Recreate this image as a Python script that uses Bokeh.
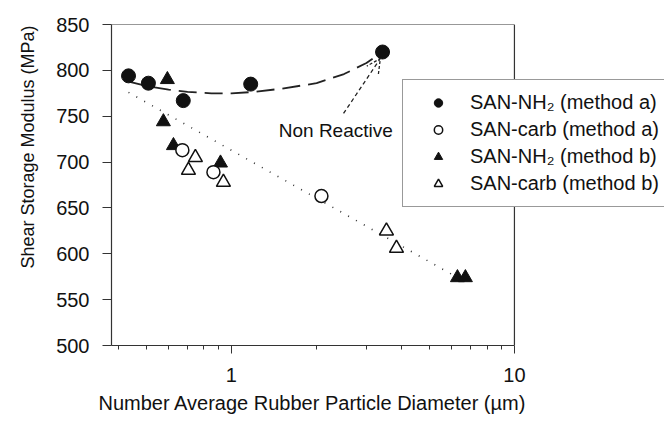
from bokeh.plotting import figure
from bokeh.models import (Legend, LegendItem, Arrow, OpenHead, Label, FixedTicker,
                          BasicTickFormatter, Range1d, Title)
from bokeh.embed import file_html
from bokeh.resources import INLINE

# ---- data ----
nh2_a_x = [0.433, 0.509, 0.676, 1.17, 3.42]
nh2_a_y = [794, 786, 767, 785, 820]

carb_a_x = [0.671, 0.864, 2.08]
carb_a_y = [713, 689, 663]

nh2_b_x = [0.594, 0.575, 0.624, 0.915, 6.29, 6.71]
nh2_b_y = [790, 744, 718, 699, 574, 574]

carb_b_x = [0.746, 0.705, 0.937, 3.53, 3.83]
carb_b_y = [705, 691, 678, 625, 606]

# dashed fit curve
fit_x = [0.43, 0.5, 0.6, 0.7, 0.85, 1.0, 1.2, 1.5, 2.0, 2.5, 3.0, 3.45]
fit_y = [788, 783, 779, 776.5, 775, 775, 776.5, 780, 786, 796, 808, 821]

# dotted trend line
trend_x = [0.433, 6.3]
trend_y = [776, 574]

# axis extents and ticks
x_lo, x_hi = 0.377, 10
y_lo, y_hi = 500, 850
x_major = [1, 10]
x_minor = [0.4, 0.5, 0.6, 0.7, 0.8, 0.9, 2, 3, 4, 5, 6, 7, 8, 9]
y_major = [500, 550, 600, 650, 700, 750, 800, 850]

labels = ["SAN-NH\u2082 (method a)", "SAN-carb (method a)",
          "SAN-NH\u2082 (method b)", "SAN-carb (method b)"]

FONT = "Liberation Sans"
INK = "#111111"
EDGE = "#333333"

# frame spans the full width so the legend can run off the right edge;
# the plot box itself ends at x = 10
p = figure(width=664, height=421, x_axis_type="log",
           x_range=Range1d(x_lo, 33.9), y_range=Range1d(y_lo, y_hi),
           output_backend="svg", toolbar_location=None,
           min_border_left=111, min_border_right=0,
           min_border_top=24, min_border_bottom=76)

p.grid.visible = False
p.outline_line_color = None
p.background_fill_color = "white"
p.border_fill_color = "white"

# plot box: top and right edges
p.line([x_lo, x_hi], [y_hi, y_hi], line_color=EDGE, line_width=1.2)
p.line([x_hi, x_hi], [y_lo, y_hi], line_color=EDGE, line_width=1.2)

# lines
p.line(fit_x, fit_y, line_color="#222222", line_width=1.8, line_dash="18 8")
p.line(trend_x, trend_y, line_color="#333333", line_width=1.6, line_dash="1 8")

# markers
r_nh2_b = p.scatter(nh2_b_x, nh2_b_y, marker="triangle", size=14,
                    fill_color=INK, line_color=INK)
r_nh2_a = p.scatter(nh2_a_x, nh2_a_y, marker="circle", size=14,
                    fill_color=INK, line_color=INK)
r_carb_a = p.scatter(carb_a_x, carb_a_y, marker="circle", size=13,
                     fill_color="white", line_color=INK, line_width=1.5)
r_carb_b = p.scatter(carb_b_x, carb_b_y, marker="triangle", size=14,
                     fill_color="white", line_color=INK, line_width=1.5)

# arrow + annotation
p.add_layout(Arrow(x_start=2.49, y_start=753, x_end=3.36, y_end=813,
                   line_color="#222222", line_width=1.3, line_dash="4 3",
                   end=OpenHead(size=14, line_color="#222222", line_width=1.3,
                                line_dash="3 2")))
p.add_layout(Label(x=1.47, y=734, text="Non Reactive", text_font=FONT,
                   text_font_size="19px", text_color=INK,
                   text_baseline="middle", text_align="left"))

# x axis
xa = p.xaxis[0]
xa.bounds = (x_lo, x_hi)
xa.ticker = FixedTicker(ticks=x_major, minor_ticks=x_minor)
xa.formatter = BasicTickFormatter()
xa.major_tick_in = 0
xa.major_tick_out = 8
xa.minor_tick_in = 0
xa.minor_tick_out = 4
xa.major_label_standoff = 14
xa.major_label_text_font = FONT
xa.major_label_text_font_size = "20px"
xa.major_label_text_color = INK
xa.axis_line_color = EDGE
xa.axis_line_width = 1.2
xa.major_tick_line_color = EDGE
xa.minor_tick_line_color = EDGE

p.add_layout(Title(text="Number Average Rubber Particle Diameter (\u00b5m)",
                   align="left", offset=-13, text_font=FONT,
                   text_font_size="20px", text_font_style="normal",
                   text_color=INK, standoff=10), "below")

# y axis
ya = p.yaxis[0]
ya.ticker = FixedTicker(ticks=y_major, minor_ticks=[])
ya.major_tick_in = 0
ya.major_tick_out = 9
ya.minor_tick_out = 0
ya.minor_tick_in = 0
ya.major_label_standoff = 13
ya.major_label_text_font = FONT
ya.major_label_text_font_size = "20px"
ya.major_label_text_color = INK
ya.axis_line_color = EDGE
ya.axis_line_width = 1.2
ya.major_tick_line_color = EDGE

p.add_layout(Title(text="Shear Storage Modulus (MPa)",
                   align="left", offset=77, text_font=FONT,
                   text_font_size="18px", text_font_style="normal",
                   text_color=INK, standoff=31), "left")

legend = Legend(items=[LegendItem(label=labels[0], renderers=[r_nh2_a]),
                       LegendItem(label=labels[1], renderers=[r_carb_a]),
                       LegendItem(label=labels[2], renderers=[r_nh2_b]),
                       LegendItem(label=labels[3], renderers=[r_carb_b])],
                location=(291, 138), padding=11, spacing=4,
                label_height=21, glyph_height=21, glyph_width=48,
                label_standoff=8, label_width=240, margin=0,
                label_text_font=FONT, label_text_font_size="20px",
                label_text_color=INK,
                border_line_color=EDGE, border_line_width=1.2,
                background_fill_color="white", background_fill_alpha=1.0)
p.add_layout(legend)

open("out.html", "w").write(file_html(p, INLINE))
